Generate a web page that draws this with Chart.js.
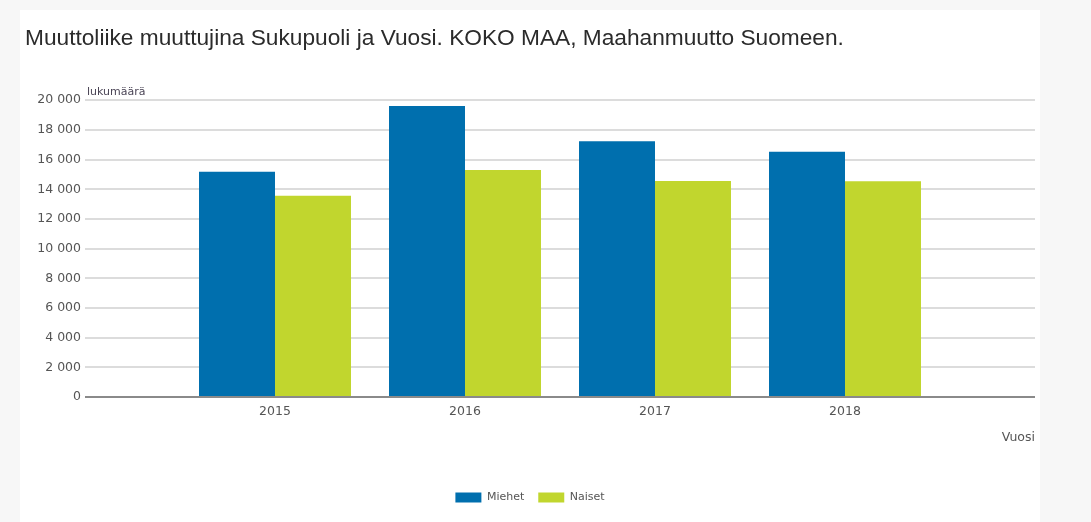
<!DOCTYPE html>
<html>
<head>
<meta charset="utf-8">
<script src="https://cdn.jsdelivr.net/npm/chart.js@4"></script>
<style>
  body { margin: 0; background: #f7f7f7; }
  #paper { position: absolute; left: 20px; top: 10px; width: 1020px; height: 512px; background: #fff; }
  #chart { position: absolute; left: 0; top: 0; }
</style>
</head>
<body>
<div id="paper"></div>
<canvas id="chart" width="1091" height="522"></canvas>
<script>
// data
const years = ['', '2015', '2016', '2017', '2018', ''];
const miehet = [null, 15180, 19610, 17230, 16530, null];
const naiset = [null, 13560, 15300, 14550, 14540, null];
const yTitle = 'lukumäärä';
const xTitle = 'Vuosi';
const chartTitle = 'Muuttoliike muuttujina Sukupuoli ja Vuosi. KOKO MAA, Maahanmuutto Suomeen.';

const TITLE_FONT = "'Liberation Sans', Arial, sans-serif";
const FONT = "'DejaVu Sans', Verdana, sans-serif";

// small label above the y axis
const yLabelPlugin = {
    id: 'yLabel',
    afterDraw(chart) {
        const ctx = chart.ctx;
        const area = chart.chartArea;
        ctx.save();
        ctx.font = '11px ' + FONT;
        ctx.fillStyle = '#4a4455';
        ctx.textAlign = 'left';
        ctx.textBaseline = 'alphabetic';
        ctx.fillText(yTitle, area.left + 2, area.top - 5);
        ctx.restore();
    }
};

function fmt(v) {
    return String(v).replace(/\B(?=(\d{3})+(?!\d))/g, ' ');
}

const ctx = document.getElementById('chart').getContext('2d');
const myChart = new Chart(ctx, {
    type: 'bar',
    data: {
        labels: years,
        datasets: [{
            label: 'Miehet',
            data: miehet,
            backgroundColor: '#006fae',
            borderWidth: 0
        }, {
            label: 'Naiset',
            data: naiset,
            backgroundColor: '#c1d62e',
            borderWidth: 0
        }]
    },
    options: {
        responsive: false,
        animation: false,
        layout: {
            padding: { left: 25, right: 56, top: 0, bottom: 9 }
        },
        datasets: {
            bar: { categoryPercentage: 0.8, barPercentage: 1.0 }
        },
        plugins: {
            title: {
                display: true,
                text: chartTitle,
                align: 'start',
                color: '#2b2b2b',
                font: { family: TITLE_FONT, size: 22.7, weight: 'normal' },
                padding: { top: 25, bottom: 48 }
            },
            legend: {
                position: 'bottom',
                labels: {
                    boxWidth: 26,
                    boxHeight: 10,
                    padding: 14,
                    color: '#555',
                    font: { family: FONT, size: 11 }
                }
            },
            tooltip: { enabled: false }
        },
        scales: {
            x: {
                offset: false,
                grid: { display: false, drawTicks: false },
                border: { display: false },
                ticks: {
                    autoSkip: false,
                    maxRotation: 0,
                    padding: 7,
                    color: '#555',
                    font: { family: FONT, size: 12.5 }
                },
                title: {
                    display: true,
                    text: xTitle,
                    align: 'end',
                    color: '#555',
                    font: { family: FONT, size: 12.5 },
                    padding: { top: 4, bottom: 33 }
                }
            },
            y: {
                min: 0,
                max: 20000,
                afterFit(scale) { scale.width = 60; },
                border: { display: false },
                grid: {
                    drawTicks: false,
                    lineWidth: 2,
                    color: (c) => c.tick && c.tick.value === 0 ? '#8a8a8a' : '#dcdcdc'
                },
                ticks: {
                    stepSize: 2000,
                    padding: 4,
                    color: '#555',
                    font: { family: FONT, size: 12.5 },
                    callback: (v) => fmt(v)
                }
            }
        }
    },
    plugins: [yLabelPlugin]
});
</script>
</body>
</html>
